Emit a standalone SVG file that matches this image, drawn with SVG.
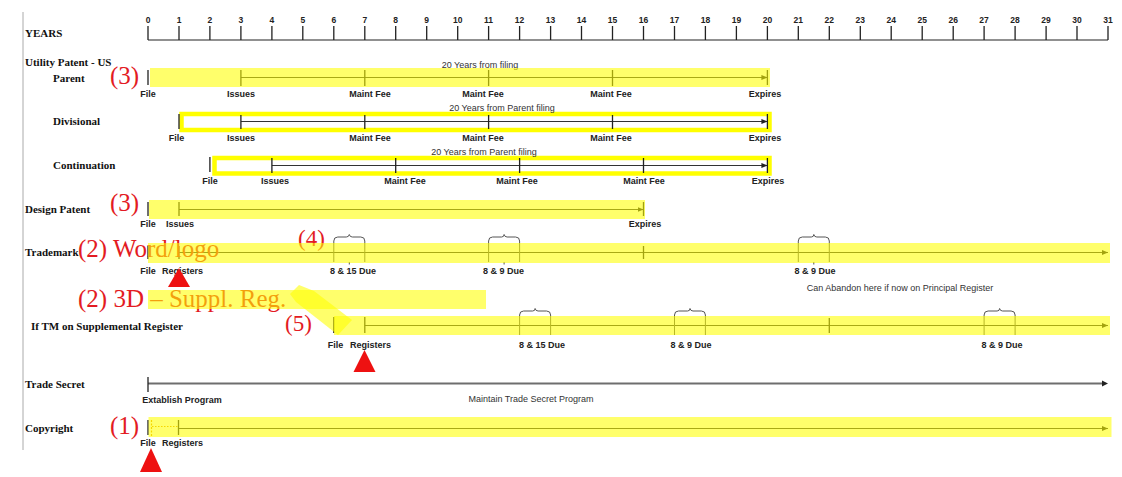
<svg xmlns="http://www.w3.org/2000/svg" width="1122" height="477" viewBox="0 0 1122 477">
<style>
.lbl{font-family:"Liberation Serif",serif;font-weight:bold;font-size:11px;fill:#111}
.sm{font-family:"Liberation Sans",Arial,sans-serif;font-weight:bold;font-size:9px;fill:#222;text-anchor:middle}
.rg{font-family:"Liberation Sans",Arial,sans-serif;font-size:9px;fill:#333;text-anchor:middle}
.num{font-family:"Liberation Sans",Arial,sans-serif;font-weight:bold;font-size:8.5px;fill:#222;text-anchor:middle}
.red{font-family:"Liberation Serif",serif;font-size:25px;fill:#e31b23}
.red2{font-family:"Liberation Serif",serif;font-size:23px;fill:#e31b23}
.ln{stroke:#333;stroke-width:1;fill:none}
.tk{stroke:#222;stroke-width:1.3;fill:none}
.band{fill:#ffff00;fill-opacity:0.58}
.box{fill:#fff;stroke:#ffff00;stroke-width:4.5}
.br{stroke:#555;stroke-width:1;fill:none}
.tri{fill:#ee1111}
</style>
<defs>
<marker id="ah" viewBox="0 0 6 6" refX="6" refY="3" markerWidth="6" markerHeight="6" orient="auto" markerUnits="userSpaceOnUse"><path d="M0,0.5 L6,3 L0,5.5z" fill="#222"/></marker>
</defs>
<rect width="1122" height="477" fill="#fff"/>
<line x1="23" y1="12" x2="23" y2="450" stroke="#aaa" stroke-width="1"/>

<g id="axis">
<text class="lbl" x="25" y="37">YEARS</text>
<line x1="148" y1="40" x2="1108" y2="40" stroke="#222" stroke-width="1.2"/>
<path class="tk" d="M148,26V40M179,26V40M209.9,26V40M240.9,26V40M271.9,26V40M302.8,26V40M333.8,26V40M364.8,26V40M395.7,26V40M426.7,26V40M457.7,26V40M488.6,26V40M519.6,26V40M550.6,26V40M581.5,26V40M612.5,26V40M643.5,26V40M674.5,26V40M705.4,26V40M736.4,26V40M767.4,26V40M798.3,26V40M829.3,26V40M860.3,26V40M891.2,26V40M922.2,26V40M953.2,26V40M984.1,26V40M1015.1,26V40M1046.1,26V40M1077,26V40M1108,26V40"/>
<text class="num" x="148" y="23">0</text><text class="num" x="179" y="23">1</text><text class="num" x="209.9" y="23">2</text><text class="num" x="240.9" y="23">3</text><text class="num" x="271.9" y="23">4</text><text class="num" x="302.8" y="23">5</text><text class="num" x="333.8" y="23">6</text><text class="num" x="364.8" y="23">7</text><text class="num" x="395.7" y="23">8</text><text class="num" x="426.7" y="23">9</text><text class="num" x="457.7" y="23">10</text><text class="num" x="488.6" y="23">11</text><text class="num" x="519.6" y="23">12</text><text class="num" x="550.6" y="23">13</text><text class="num" x="581.5" y="23">14</text><text class="num" x="612.5" y="23">15</text><text class="num" x="643.5" y="23">16</text><text class="num" x="674.5" y="23">17</text><text class="num" x="705.4" y="23">18</text><text class="num" x="736.4" y="23">19</text><text class="num" x="767.4" y="23">20</text><text class="num" x="798.3" y="23">21</text><text class="num" x="829.3" y="23">22</text><text class="num" x="860.3" y="23">23</text><text class="num" x="891.2" y="23">24</text><text class="num" x="922.2" y="23">25</text><text class="num" x="953.2" y="23">26</text><text class="num" x="984.1" y="23">27</text><text class="num" x="1015.1" y="23">28</text><text class="num" x="1046.1" y="23">29</text><text class="num" x="1077" y="23">30</text><text class="num" x="1108" y="23">31</text>
</g>

<g id="utility-parent">
<text class="lbl" x="25" y="66">Utility Patent - US</text>
<text class="lbl" x="53" y="82">Parent</text>
<text class="red" x="110" y="84">(3)</text>
<text class="rg" x="480" y="68">20 Years from filing</text>
<line class="ln" x1="240.9" y1="77.5" x2="767.4" y2="77.5" marker-end="url(#ah)"/>
<path class="tk" d="M148,70V85M240.9,70V86M364.8,70V86M488.6,70V86M612.5,70V86M767.4,70V85"/>
<rect class="band" x="150" y="68" width="620" height="19"/>
<text class="sm" x="148" y="97">File</text><text class="sm" x="241" y="97">Issues</text><text class="sm" x="370" y="97">Maint Fee</text><text class="sm" x="483" y="97">Maint Fee</text><text class="sm" x="611" y="97">Maint Fee</text><text class="sm" x="765" y="97">Expires</text>
</g>

<g id="divisional">
<text class="lbl" x="53" y="125">Divisional</text>
<rect class="box" x="181.5" y="114" width="588" height="16"/>
<text class="rg" x="502" y="110.5">20 Years from Parent filing</text>
<line class="ln" x1="240.9" y1="121.5" x2="767.4" y2="121.5" marker-end="url(#ah)"/>
<path class="tk" d="M179,114V129M240.9,115V129M364.8,115V129M488.6,115V129M612.5,115V129M767.4,114V129"/>
<text class="sm" x="176.5" y="141">File</text><text class="sm" x="241" y="141">Issues</text><text class="sm" x="370" y="141">Maint Fee</text><text class="sm" x="483" y="141">Maint Fee</text><text class="sm" x="611" y="141">Maint Fee</text><text class="sm" x="765" y="141">Expires</text>
</g>

<g id="continuation">
<text class="lbl" x="53" y="169">Continuation</text>
<rect class="box" x="214.5" y="158" width="555" height="15.5"/>
<text class="rg" x="484" y="154.5">20 Years from Parent filing</text>
<line class="ln" x1="271.9" y1="165.5" x2="767.4" y2="165.5" marker-end="url(#ah)"/>
<path class="tk" d="M209.9,157V172M271.9,158V173M395.7,158V173M519.6,158V173M643.5,158V173M767.4,158V173"/>
<text class="sm" x="210" y="184">File</text><text class="sm" x="275" y="184">Issues</text><text class="sm" x="405" y="184">Maint Fee</text><text class="sm" x="517" y="184">Maint Fee</text><text class="sm" x="644" y="184">Maint Fee</text><text class="sm" x="768" y="184">Expires</text>
</g>

<g id="design-patent">
<text class="lbl" x="25" y="213">Design Patent</text>
<text class="red" x="110" y="211">(3)</text>
<line class="ln" x1="179" y1="209.5" x2="643.5" y2="209.5" marker-end="url(#ah)"/>
<path class="tk" d="M148,202V216M179,202V216M643.5,202V216"/>
<rect class="band" x="149" y="200" width="496" height="19"/>
<text class="sm" x="148" y="227">File</text><text class="sm" x="180" y="227">Issues</text><text class="sm" x="645" y="227">Expires</text>
</g>

<g id="trademark">
<text class="lbl" x="25" y="256">Trademark</text>
<line class="ln" x1="179" y1="252.5" x2="1108" y2="252.5" marker-end="url(#ah)"/>
<path class="tk" d="M148,246V259M179,246V259M643.5,246V259"/>
<path class="br" d="M333.8,241Q333.8,237 337.8,237L346.3,237Q348.8,237 349.3,234.5Q349.8,237 352.3,237L360.8,237Q364.8,237 364.8,241M333.8,241V262M364.8,241V262M349.3,262V264.5"/>
<path class="br" d="M488.6,241Q488.6,237 492.6,237L501.6,237Q504,237 504.1,234.5Q504.6,237 507.1,237L515.6,237Q519.6,237 519.6,241M488.6,241V262M519.6,241V262M504.1,262V264.5"/>
<path class="br" d="M798.3,241Q798.3,237 802.3,237L811.3,237Q813.8,237 813.8,234.5Q814.3,237 816.8,237L825.3,237Q829.3,237 829.3,241M798.3,241V262M829.3,241V262M813.8,262V264.5"/>
<text class="red" x="78" y="257">(2) Word/logo</text>
<text class="red2" x="298" y="246">(4)</text>
<rect class="band" x="148" y="243" width="962" height="20"/>
<text class="sm" x="148" y="274">File</text><text class="sm" x="182.5" y="274">Registers</text><text class="sm" x="353" y="274">8 &amp; 15 Due</text><text class="sm" x="503.5" y="274">8 &amp; 9 Due</text><text class="sm" x="815" y="274">8 &amp; 9 Due</text>
<text class="rg" x="900" y="291">Can Abandon here if  now on Principal Register</text>
<polygon class="tri" points="179,268 168,287 190,287"/>
</g>

<g id="supplemental">
<text class="red" x="78" y="307">(2) 3D – Suppl. Reg.</text>
<rect class="band" x="148" y="290" width="338" height="19"/>
<text class="lbl" x="31" y="330">If TM on Supplemental Register</text>
<text class="red2" x="285" y="331">(5)</text>
<line class="ln" x1="364.8" y1="325.5" x2="1108" y2="325.5" marker-end="url(#ah)"/>
<path class="tk" d="M333.8,317V333M364.8,317V333M829.3,318V333"/>
<path class="br" d="M519.6,315Q519.6,311 523.6,311L532.6,311Q535.1,311 535.1,308.5Q535.6,311 538.1,311L546.6,311Q550.6,311 550.6,315M519.6,315V335M550.6,315V335"/>
<path class="br" d="M674.5,315Q674.5,311 678.5,311L687.5,311Q690,311 690,308.5Q690.5,311 693,311L701.4,311Q705.4,311 705.4,315M674.5,315V335M705.4,315V335"/>
<path class="br" d="M984.1,315Q984.1,311 988.1,311L997.1,311Q999.6,311 999.6,308.5Q1000.1,311 1002.6,311L1011.1,311Q1015.1,311 1015.1,315M984.1,315V335M1015.1,315V335"/>
<rect class="band" x="334" y="316" width="776" height="19"/>
<polygon class="band" points="299,285 314,291 352,320 338,335 296,302 290,294"/>
<text class="sm" x="335.5" y="348">File</text><text class="sm" x="370.5" y="348">Registers</text><text class="sm" x="542" y="348">8 &amp; 15 Due</text><text class="sm" x="691" y="348">8 &amp; 9 Due</text><text class="sm" x="1002" y="348">8 &amp; 9 Due</text>
<polygon class="tri" points="364.5,350 353.5,372 375.5,372"/>
</g>

<g id="trade-secret">
<text class="lbl" x="25" y="388">Trade Secret</text>
<line x1="148" y1="383.5" x2="1103" y2="383.5" stroke="#6e6e6e" stroke-width="2.2"/>
<path d="M1102,380.5L1108,383.5L1102,386.5z" fill="#222"/>
<path class="tk" d="M148,377V392"/>
<text class="sm" x="182" y="403">Extablish Program</text>
<text class="rg" x="531" y="402">Maintain Trade Secret Program</text>
</g>

<g id="copyright">
<text class="lbl" x="25" y="432">Copyright</text>
<text class="red" x="110" y="434">(1)</text>
<line class="ln" x1="178.5" y1="428.5" x2="1108" y2="428.5" marker-end="url(#ah)"/>
<path class="tk" d="M148,420V435M178.5,420V435"/>
<path d="M151.5,420V436" stroke="#e8a000" stroke-width="1.2" stroke-dasharray="2,1.5"/>
<path d="M152,426.5H178" stroke="#e8a000" stroke-width="1.2" stroke-dasharray="1.5,1.5"/>
<rect class="band" x="148.5" y="417" width="963" height="20"/>
<text class="sm" x="148" y="446">File</text><text class="sm" x="182.5" y="446">Registers</text>
<polygon class="tri" points="151,448 140,472 162,472"/>
</g>
</svg>
